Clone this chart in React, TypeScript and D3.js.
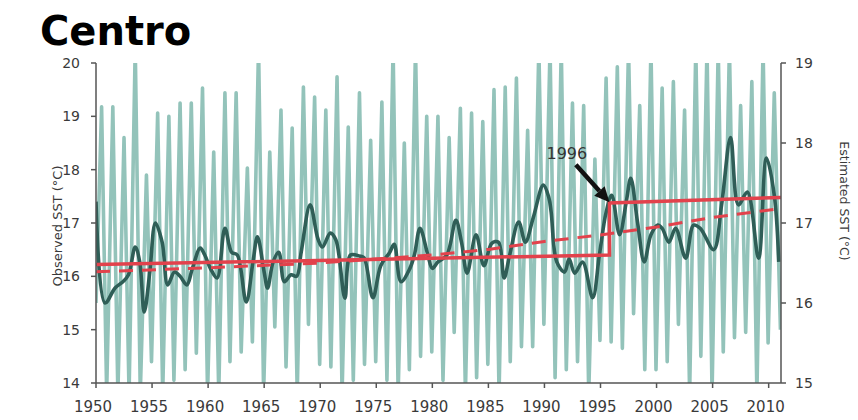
import React from 'react'
import * as d3 from 'd3'

// light line: one summer peak and one winter trough per year (left axis, °C)
const peakYears = d3.range(1950, 2011)
const peakValues = [
  19.18, 19.18, 18.6, 20.3, 17.9, 19.06, 19.0, 19.25, 19.25, 19.53,
  18.33, 19.44, 19.44, 18.03, 20.3, 18.33, 19.12, 18.78, 19.55, 19.36,
  19.12, 19.74, 18.8, 19.44, 18.55, 19.27, 20.3, 18.5, 20.3, 19.0,
  19.0, 18.6, 19.15, 19.06, 18.9, 19.5, 19.55, 19.72, 18.74, 20.3,
  20.3, 20.3, 19.25, 19.2, 18.2, 19.72, 19.93, 20.3, 19.2, 20.3,
  19.53, 19.65, 19.12, 20.3, 20.3, 20.3, 20.3, 19.2, 19.65, 20.3,
  19.44,
]
const troughValues = [
  13.8, 13.8, 13.8, 13.8, 14.4, 13.8, 14.05, 14.25, 14.56, 13.8,
  13.8, 14.4, 14.58, 14.77, 13.8, 15.05, 14.3, 13.8, 15.1, 14.35,
  14.3, 13.8, 14.05, 14.35, 14.4, 14.05, 13.8, 14.25, 14.5, 14.58,
  14.05, 14.95, 13.8, 14.1, 14.35, 13.8, 14.4, 14.68, 14.68, 15.1,
  14.1, 14.25, 14.4, 13.8, 14.8, 14.77, 14.65, 15.3, 14.25, 14.25,
  14.4, 15.1, 13.8, 14.5, 13.8, 14.58, 14.85, 14.95, 13.8, 14.75,
]
const firstValue = 15.5
const lastValue = 15.0

// dark line: smoothed observed SST (left axis)
const smoothYears = [
  1950.0, 1950.8, 1951.7, 1952.4, 1952.9, 1953.5, 1953.9, 1954.3, 1954.8, 1955.3,
  1955.9, 1956.4, 1957.0, 1957.5, 1958.1, 1958.6, 1959.3, 1959.7, 1960.2, 1960.8,
  1961.5, 1962.1, 1962.6, 1963.4, 1964.0, 1964.4, 1965.0, 1965.3, 1965.8, 1966.3,
  1966.8, 1967.4, 1967.9, 1968.3, 1969.1, 1969.8, 1970.2, 1970.9, 1971.4, 1972.2,
  1972.7, 1973.5, 1973.9, 1974.7, 1975.4, 1976.2, 1976.6, 1977.2, 1978.0, 1978.4,
  1978.9, 1979.6, 1980.0, 1980.5, 1981.3, 1982.1, 1982.6, 1983.1, 1983.9, 1984.6,
  1985.3, 1985.9, 1986.4, 1986.9, 1987.7, 1988.3, 1989.0, 1989.9, 1990.4, 1990.6,
  1991.1, 1991.8, 1992.2, 1992.7, 1993.4, 1994.3, 1994.9, 1995.5, 1996.0, 1996.7,
  1997.3, 1997.7, 1998.3, 1998.9, 1999.5, 2000.1, 2000.5, 2001.1, 2001.7, 2002.6,
  2003.3, 2003.9, 2005.1, 2005.8, 2006.6, 2007.3, 2008.1, 2009.1, 2009.8, 2010.5,
  2010.9,
]
const smoothValues = [
  17.4, 15.5, 15.78, 15.9, 16.03, 16.55, 16.27, 15.33, 16.08, 17.0,
  16.64, 15.84, 16.08, 16.0, 15.84, 16.15, 16.53, 16.4, 16.15, 15.97,
  16.9, 16.45, 16.4, 15.52, 16.27, 16.74, 16.08, 15.78, 16.27, 16.45,
  15.9, 16.03, 16.0, 16.45, 17.34, 16.7, 16.55, 16.81, 16.68, 15.59,
  16.4, 16.38, 16.35, 15.6, 16.2, 16.45, 16.6, 15.9, 16.15, 16.4,
  16.9, 16.4, 16.15, 16.27, 16.4, 17.05, 16.64, 16.06, 16.78, 16.2,
  16.62, 16.64, 15.97, 16.4, 17.02, 16.64, 17.1, 17.71, 17.47, 17.2,
  16.27, 16.08, 16.33, 16.06, 16.27, 15.6, 16.4, 17.2, 17.52, 16.78,
  17.4, 17.84, 17.02, 16.27, 16.78, 16.96, 16.9, 16.64, 16.9, 16.34,
  16.96, 16.9, 16.5, 17.34, 18.6, 17.34, 17.58, 16.34, 18.22, 17.52,
  16.27,
]

// estimated SST (right axis): regime shift in 1996 and smooth trend
const regimeYears = [1950, 1995.8, 1995.8, 2011.1]
const regimeValues = [16.48, 16.6, 17.25, 17.32]
const trendYears = [1950, 1960, 1970, 1980, 1985, 1990, 1995, 2000, 2005, 2011.1]
const trendValues = [16.39, 16.44, 16.5, 16.6, 16.67, 16.77, 16.85, 16.95, 17.07, 17.18]

const xTicks = d3.range(1950, 2011, 5)
const leftTicks = [14, 15, 16, 17, 18, 19, 20]
const rightTicks = [15, 16, 17, 18, 19]

const W = 858
const H = 420
const m = { left: 96, right: 77, top: 63, bottom: 37 }
const font = 'DejaVu Sans, sans-serif'

export default function App() {
  const x = d3.scaleLinear().domain([1950, 2011.1]).range([m.left, W - m.right])
  const yL = d3.scaleLinear().domain([14, 20]).range([H - m.bottom, m.top])
  const yR = d3.scaleLinear().domain([15, 19]).range([H - m.bottom, m.top])
  const bottom = H - m.bottom
  const rightX = W - m.right

  // monthly-looking zigzag from the yearly extremes
  const raw: [number, number][] = [[1950, firstValue]]
  peakYears.forEach((yr, i) => {
    raw.push([yr + 0.5, peakValues[i]])
    if (i < troughValues.length) raw.push([yr + 0.95, troughValues[i]])
  })
  raw.push([2011.05, lastValue])

  const lineL = d3.line<[number, number]>().x(d => x(d[0])).y(d => yL(d[1]))
  const smoothLine = d3
    .line<[number, number]>()
    .x(d => x(d[0]))
    .y(d => yL(d[1]))
    .curve(d3.curveCatmullRom.alpha(0.5))
  const lineR = d3.line<[number, number]>().x(d => x(d[0])).y(d => yR(d[1]))

  const smooth = smoothYears.map((t, i) => [t, smoothValues[i]] as [number, number])
  const regime = regimeYears.map((t, i) => [t, regimeValues[i]] as [number, number])
  const trend = trendYears.map((t, i) => [t, trendValues[i]] as [number, number])

  // 1996 annotation
  const ax0 = x(1992.8), ay0 = yL(18.09)
  const ax1 = x(1995.8), ay1 = yL(17.39)
  const ang = Math.atan2(ay1 - ay0, ax1 - ax0)
  const hl = 15, hw = 7
  const bx = ax1 - hl * Math.cos(ang), by = ay1 - hl * Math.sin(ang)
  const head = [
    [ax1, ay1],
    [bx + hw * Math.sin(ang), by - hw * Math.cos(ang)],
    [bx - hw * Math.sin(ang), by + hw * Math.cos(ang)],
  ]
    .map(p => p.join(','))
    .join(' ')

  return (
    <svg
      width={W}
      height={H}
      style={{ position: 'absolute', left: 0, top: 0, background: '#fff' }}
      fontFamily={font}
    >
      <defs>
        <clipPath id="plot">
          <rect x={m.left} y={m.top} width={rightX - m.left} height={bottom - m.top} />
        </clipPath>
      </defs>

      <text x={40} y={45} fontSize={40} fontWeight="bold" fill="#000">
        Centro
      </text>

      <g clipPath="url(#plot)">
        <path d={lineL(raw) || ''} fill="none" stroke="#93c3ba" strokeWidth={3.6} strokeLinejoin="round" />
        <path d={smoothLine(smooth) || ''} fill="none" stroke="#2f5e57" strokeWidth={3.6} />
        <path d={lineR(trend) || ''} fill="none" stroke="#e2424c" strokeWidth={3} strokeDasharray="14,9" />
        <path d={lineR(regime) || ''} fill="none" stroke="#e2424c" strokeWidth={3.5} />
      </g>

      {/* left axis */}
      <line x1={m.left} x2={m.left} y1={m.top} y2={bottom} stroke="#555" strokeWidth={1.5} />
      {leftTicks.map(t => (
        <g key={'l' + t}>
          <line x1={m.left - 5} x2={m.left} y1={yL(t)} y2={yL(t)} stroke="#555" strokeWidth={1.5} />
          <text x={80} y={yL(t)} dy="0.36em" textAnchor="end" fontSize={14} fill="#3a3a3a">
            {t}
          </text>
        </g>
      ))}

      {/* right axis */}
      <line x1={rightX} x2={rightX} y1={m.top} y2={bottom} stroke="#555" strokeWidth={1.5} />
      {rightTicks.map(t => (
        <g key={'r' + t}>
          <line x1={rightX} x2={rightX + 5} y1={yR(t)} y2={yR(t)} stroke="#555" strokeWidth={1.5} />
          <text x={795} y={yR(t)} dy="0.36em" fontSize={14} fill="#3a3a3a">
            {t}
          </text>
        </g>
      ))}

      {/* bottom axis */}
      <line x1={m.left} x2={rightX} y1={bottom} y2={bottom} stroke="#555" strokeWidth={1.5} />
      {xTicks.map(t => (
        <g key={'x' + t}>
          <line x1={x(t)} x2={x(t)} y1={bottom} y2={bottom + 5} stroke="#555" strokeWidth={1.5} />
          <text x={x(t) - 3} y={412} textAnchor="middle" fontSize={15} fill="#3a3a3a">
            {t}
          </text>
        </g>
      ))}

      <text
        transform={`translate(62,226) rotate(-90)`}
        textAnchor="middle"
        fontSize={13}
        fill="#3a3a3a"
      >
        Observed SST (°C)
      </text>
      <text
        transform={`translate(840,201) rotate(90)`}
        textAnchor="middle"
        fontSize={12.5}
        fill="#3a3a3a"
      >
        Estimated SST (°C)
      </text>

      <text x={x(1992)} y={yL(18.2)} textAnchor="middle" fontSize={16} fill="#333">
        1996
      </text>
      <line x1={ax0} y1={ay0} x2={bx} y2={by} stroke="#111" strokeWidth={4.5} />
      <polygon points={head} fill="#111" />
    </svg>
  )
}
